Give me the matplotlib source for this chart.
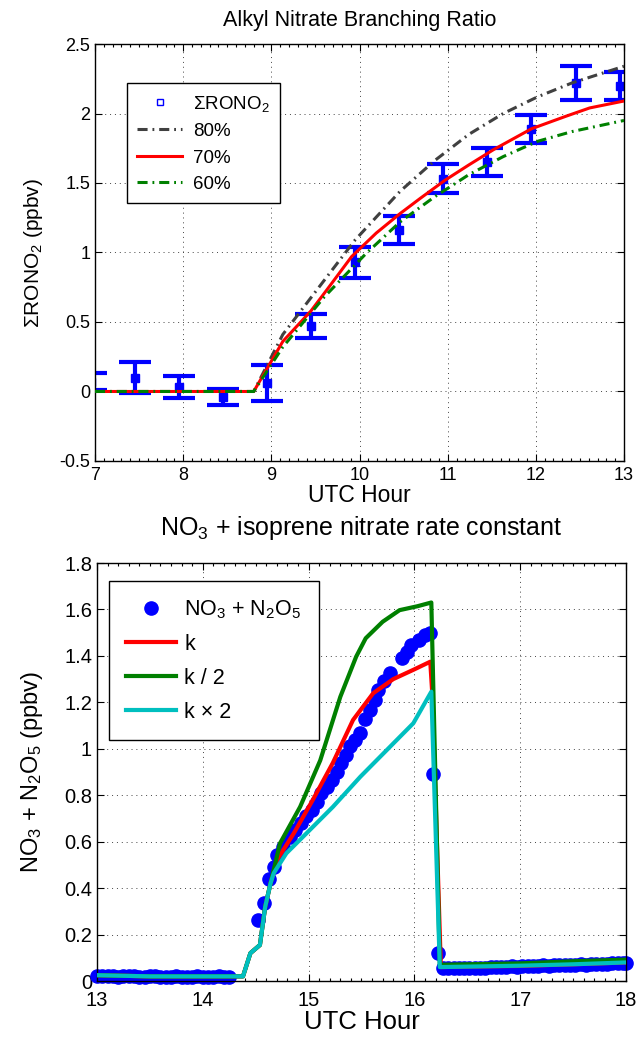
import matplotlib
matplotlib.use("Agg")
import matplotlib.pyplot as plt
from matplotlib.lines import Line2D
from matplotlib.ticker import MultipleLocator, FuncFormatter

plt.rcParams['font.family'] = ['Liberation Sans', 'DejaVu Sans']
plt.rcParams['mathtext.fontset'] = 'custom'
plt.rcParams['mathtext.rm'] = 'Liberation Sans'
plt.rcParams['mathtext.default'] = 'regular'

# ---- top panel: alkyl nitrate branching ratio ----
t_obs = [6.95, 7.45, 7.95, 8.45, 8.95, 9.45, 9.95, 10.45, 10.95, 11.45, 11.95, 12.45, 12.95]
rono2 = [0.07, 0.10, 0.03, -0.04, 0.06, 0.47, 0.93, 1.16, 1.53, 1.65, 1.89, 2.22, 2.20]
rono2_err = [0.06, 0.11, 0.08, 0.06, 0.13, 0.085, 0.11, 0.10, 0.105, 0.10, 0.10, 0.12, 0.10]

t80 = [7.0, 8.8, 9.13, 9.60, 9.95, 10.46, 10.85, 11.24, 11.63, 12.02, 12.41, 13.0]
y80 = [0, 0, 0.41, 0.80, 1.09, 1.44, 1.66, 1.85, 2.00, 2.12, 2.22, 2.34]
t70 = [7.0, 8.8, 9.13, 9.45, 9.64, 9.91, 10.19, 10.46, 10.69, 10.97, 11.24, 11.52, 11.95, 12.34, 12.61, 13.0]
y70 = [0, 0, 0.36, 0.58, 0.74, 0.97, 1.14, 1.28, 1.39, 1.52, 1.63, 1.74, 1.89, 1.98, 2.04, 2.09]
t60 = [7.0, 8.8, 9.13, 9.60, 10.07, 10.46, 10.85, 11.24, 11.63, 12.02, 12.41, 13.0]
y60 = [0, 0, 0.32, 0.68, 0.99, 1.22, 1.40, 1.56, 1.69, 1.80, 1.87, 1.95]

# ---- bottom panel: NO3 + N2O5 ----
t_base = [13.00, 13.05, 13.10, 13.15, 13.20, 13.25, 13.30, 13.35, 13.40, 13.45, 13.50, 13.55, 13.60,
          13.65, 13.70, 13.75, 13.80, 13.85, 13.90, 13.95, 14.00, 14.05, 14.10, 14.15, 14.20, 14.25]
no3_base = [0.022, 0.021, 0.020, 0.020, 0.019, 0.020, 0.021, 0.020, 0.018, 0.019, 0.020, 0.020, 0.019,
            0.018, 0.019, 0.020, 0.019, 0.018, 0.019, 0.020, 0.019, 0.018, 0.019, 0.020, 0.019, 0.018]
t_rise = [14.52, 14.58, 14.63, 14.67, 14.70, 14.76, 14.82, 14.87, 14.93, 14.98, 15.03, 15.08, 15.12,
          15.17, 15.22, 15.27, 15.31, 15.35, 15.39, 15.44, 15.49, 15.53, 15.58, 15.63, 15.66, 15.71,
          15.77, 15.88, 15.93, 15.97, 16.04, 16.10, 16.15, 16.18, 16.22]
no3_rise = [0.263, 0.337, 0.438, 0.492, 0.543, 0.578, 0.62, 0.65, 0.68, 0.71, 0.736, 0.77, 0.81,
            0.837, 0.866, 0.90, 0.94, 0.973, 1.01, 1.04, 1.067, 1.13, 1.167, 1.21, 1.253, 1.29,
            1.325, 1.39, 1.418, 1.447, 1.468, 1.49, 1.497, 0.891, 0.119]
t_tail = [16.27, 16.32, 16.37, 16.42, 16.47, 16.52, 16.57, 16.62, 16.67, 16.72, 16.77, 16.82, 16.87,
          16.92, 16.97, 17.02, 17.07, 17.12, 17.17, 17.22, 17.27, 17.32, 17.37, 17.42, 17.47, 17.52,
          17.57, 17.62, 17.67, 17.72, 17.77, 17.82, 17.87, 17.92, 17.97, 18.00]
no3_tail = [0.056, 0.055, 0.056, 0.057, 0.056, 0.057, 0.058, 0.057, 0.058, 0.059, 0.060, 0.061, 0.062,
            0.063, 0.062, 0.064, 0.063, 0.065, 0.066, 0.067, 0.066, 0.068, 0.069, 0.070, 0.069, 0.071,
            0.072, 0.071, 0.073, 0.074, 0.073, 0.075, 0.076, 0.076, 0.077, 0.077]

tk = [13.0, 13.5, 14.38, 14.45, 14.54, 14.59, 14.64, 14.70, 14.86, 15.04, 15.23, 15.42, 15.61, 15.80,
      15.99, 16.15, 16.17, 16.25, 16.5, 17.0, 17.5, 18.0]
yk = [0.025, 0.02, 0.02, 0.12, 0.155, 0.32, 0.42, 0.52, 0.636, 0.78, 0.94, 1.124, 1.239, 1.30,
      1.34, 1.375, 1.23, 0.06, 0.062, 0.065, 0.072, 0.08]
tk2 = [13.0, 13.5, 14.38, 14.45, 14.54, 14.59, 14.64, 14.73, 14.92, 15.11, 15.30, 15.45, 15.54, 15.70,
       15.86, 16.03, 16.16, 16.24, 16.5, 17.0, 17.5, 18.0]
yk2 = [0.025, 0.02, 0.02, 0.12, 0.155, 0.32, 0.42, 0.593, 0.75, 0.95, 1.224, 1.397, 1.476, 1.547,
       1.597, 1.614, 1.63, 0.07, 0.072, 0.076, 0.085, 0.092]
tkx = [13.0, 13.5, 14.38, 14.45, 14.54, 14.59, 14.64, 14.67, 14.79, 14.98, 15.23, 15.49, 15.74, 15.99,
       16.16, 16.24, 16.5, 17.0, 17.5, 18.0]
ykx = [0.025, 0.02, 0.02, 0.12, 0.155, 0.32, 0.42, 0.464, 0.55, 0.636, 0.75, 0.88, 0.995, 1.11,
       1.246, 0.06, 0.062, 0.066, 0.072, 0.08]

fmt = FuncFormatter(lambda v, p: '%g' % round(v, 2))


def style_axes(ax, labelsize, xpad):
    ax.tick_params(which='both', direction='in', top=True, right=True, labelsize=labelsize, width=0.8)
    ax.tick_params(which='major', length=5)
    ax.tick_params(which='minor', length=2.5)
    ax.tick_params(axis='x', pad=xpad)
    ax.grid(True, which='major', color='#444444', ls=(0, (1, 4)), lw=0.7)
    for s in ax.spines.values():
        s.set_linewidth(1.0)
    ax.yaxis.set_major_formatter(fmt)
    ax.xaxis.set_major_formatter(fmt)


def main():
    fig = plt.figure(figsize=(6.38, 10.38), dpi=100)

    # top
    ax1 = fig.add_axes([0.1489, 0.5559, 0.8292, 0.4017])
    ax1.errorbar(t_obs, rono2, yerr=rono2_err, fmt='s', color='#0000ff', ms=6, elinewidth=3,
                 capsize=11.5, capthick=3, clip_on=True, zorder=2)
    dd = (0, (3.3, 1.6, 0.6, 1.6))
    ax1.plot(t80, y80, color='#404040', lw=2.2, ls=dd, zorder=3)
    ax1.plot(t70, y70, color='#ff0000', lw=2.2, zorder=3)
    ax1.plot(t60, y60, color='#008000', lw=2.2, ls=dd, zorder=3)
    ax1.set_xlim(7, 13)
    ax1.set_ylim(-0.5, 2.5)
    ax1.xaxis.set_major_locator(MultipleLocator(1))
    ax1.xaxis.set_minor_locator(MultipleLocator(0.1))
    ax1.yaxis.set_major_locator(MultipleLocator(0.5))
    style_axes(ax1, 13, 4)
    ax1.set_title('Alkyl Nitrate Branching Ratio', fontsize=15.5, pad=13)
    ax1.set_xlabel('UTC Hour', fontsize=16.5, labelpad=0)
    ax1.set_ylabel(r'$\Sigma$RONO$_2$ (ppbv)', fontsize=15, labelpad=10)
    h1 = [Line2D([], [], ls='none', marker='s', ms=4, mfc='none', mec='#0000ff', mew=1),
          Line2D([], [], color='#404040', lw=2.2, ls=dd),
          Line2D([], [], color='#ff0000', lw=2.2),
          Line2D([], [], color='#008000', lw=2.2, ls=dd)]
    leg1 = ax1.legend(h1, [r'$\Sigma$RONO$_2$', '80%', '70%', '60%'], loc='upper left',
                      bbox_to_anchor=(0.06, 0.906), borderaxespad=0, fontsize=13.5,
                      handlelength=2.4, handletextpad=0.6, labelspacing=0.5,
                      fancybox=False, framealpha=1, edgecolor='black', borderpad=0.55)
    leg1.get_frame().set_linewidth(1.0)

    # bottom
    ax2 = fig.add_axes([0.152, 0.0549, 0.8292, 0.4027])
    ax2.plot(t_base, no3_base, 'o', color='#0000ff', ms=9.5, zorder=2, clip_on=False)
    ax2.plot(t_rise, no3_rise, 'o', color='#0000ff', ms=9.5, zorder=2)
    ax2.plot(t_tail, no3_tail, 'o', color='#0000ff', ms=9.5, zorder=2, clip_on=False)
    ax2.plot(tk, yk, color='#ff0000', lw=3, zorder=3)
    ax2.plot(tk2, yk2, color='#008000', lw=3, zorder=3)
    ax2.plot(tkx, ykx, color='#00bfbf', lw=3, zorder=4)
    ax2.set_xlim(13, 18)
    ax2.set_ylim(0, 1.8)
    ax2.xaxis.set_major_locator(MultipleLocator(1))
    ax2.xaxis.set_minor_locator(MultipleLocator(0.1))
    ax2.yaxis.set_major_locator(MultipleLocator(0.2))
    style_axes(ax2, 14.5, 7)
    ax2.set_title('NO$_3$ + isoprene nitrate rate constant', fontsize=18, pad=20)
    ax2.set_xlabel('UTC Hour', fontsize=18.5, labelpad=0)
    ax2.set_ylabel('NO$_3$ + N$_2$O$_5$ (ppbv)', fontsize=17, labelpad=14)
    h2 = [Line2D([], [], ls='none', marker='o', ms=9.5, color='#0000ff'),
          Line2D([], [], color='#ff0000', lw=3),
          Line2D([], [], color='#008000', lw=3),
          Line2D([], [], color='#00bfbf', lw=3)]
    leg2 = ax2.legend(h2, ['NO$_3$ + N$_2$O$_5$', 'k', 'k / 2', 'k \u00d7 2'], loc='upper left',
                      bbox_to_anchor=(0.0227, 0.957), borderaxespad=0, fontsize=15.5,
                      handlelength=2.3, handletextpad=0.4, labelspacing=0.6,
                      fancybox=False, framealpha=1, edgecolor='black', borderpad=0.8)
    leg2.get_frame().set_linewidth(1.0)

    fig.savefig('out.png', dpi=100)


if __name__ == "__main__":
    main()
